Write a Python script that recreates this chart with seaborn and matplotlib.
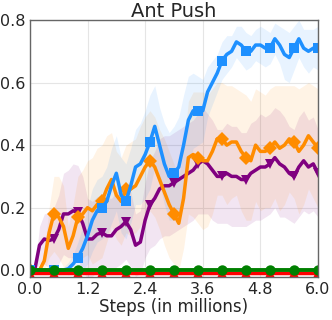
import numpy as np
import pandas as pd
import matplotlib
matplotlib.use("Agg")
import matplotlib.pyplot as plt
import seaborn as sns

steps = np.round(np.arange(0, 6.01, 0.1), 1)

blue_mean = [0, 0, 0, 0, 0, 0, 0, 0, 0.005, 0.02,
             0.04, 0.07, 0.11, 0.16, 0.19, 0.20, 0.22, 0.27, 0.31, 0.24,
             0.22, 0.27, 0.33, 0.34, 0.37, 0.41, 0.46, 0.40, 0.34, 0.30,
             0.31, 0.33, 0.40, 0.48, 0.51, 0.51, 0.51, 0.57, 0.60, 0.63,
             0.67, 0.69, 0.70, 0.73, 0.72, 0.70, 0.70, 0.72, 0.72, 0.71,
             0.71, 0.74, 0.72, 0.69, 0.68, 0.71, 0.74, 0.71, 0.70, 0.71, 0.71]
blue_sd = [0, 0, 0, 0, 0, 0, 0.005, 0.01, 0.02, 0.03,
           0.05, 0.07, 0.09, 0.10, 0.10, 0.10, 0.11, 0.12, 0.12, 0.12,
           0.12, 0.12, 0.12, 0.13, 0.14, 0.15, 0.13, 0.12, 0.13, 0.14,
           0.15, 0.16, 0.16, 0.14, 0.12, 0.11, 0.10, 0.08, 0.07, 0.06,
           0.06, 0.06, 0.05, 0.05, 0.06, 0.06, 0.05, 0.05, 0.06, 0.06,
           0.05, 0.05, 0.06, 0.08, 0.08, 0.07, 0.06, 0.06, 0.07, 0.06, 0.07]

orange_mean = [0, 0, 0, 0.03, 0.12, 0.18, 0.17, 0.14, 0.07, 0.11,
               0.17, 0.18, 0.20, 0.19, 0.21, 0.22, 0.26, 0.29, 0.24, 0.22,
               0.26, 0.26, 0.27, 0.30, 0.33, 0.35, 0.33, 0.29, 0.25, 0.21,
               0.18, 0.15, 0.23, 0.36, 0.37, 0.36, 0.35, 0.35, 0.38, 0.42,
               0.42, 0.40, 0.41, 0.41, 0.38, 0.36, 0.35, 0.40, 0.38, 0.38,
               0.39, 0.41, 0.39, 0.40, 0.42, 0.41, 0.38, 0.40, 0.43, 0.41, 0.39]
orange_sd = [0, 0, 0, 0.03, 0.08, 0.12, 0.13, 0.13, 0.07, 0.10,
             0.13, 0.14, 0.15, 0.17, 0.18, 0.18, 0.17, 0.15, 0.14, 0.14,
             0.14, 0.15, 0.15, 0.16, 0.16, 0.16, 0.16, 0.16, 0.17, 0.17,
             0.16, 0.15, 0.16, 0.18, 0.20, 0.21, 0.22, 0.21, 0.20, 0.18,
             0.18, 0.19, 0.18, 0.17, 0.19, 0.20, 0.19, 0.18, 0.19, 0.18,
             0.19, 0.18, 0.20, 0.19, 0.17, 0.18, 0.20, 0.19, 0.17, 0.18, 0.19]

purple_mean = [0, 0, 0.08, 0.10, 0.095, 0.10, 0.13, 0.18, 0.18, 0.19,
               0.185, 0.15, 0.10, 0.10, 0.115, 0.12, 0.11, 0.11, 0.13, 0.14,
               0.155, 0.13, 0.08, 0.09, 0.16, 0.21, 0.23, 0.26, 0.27, 0.27,
               0.28, 0.29, 0.30, 0.31, 0.32, 0.34, 0.35, 0.34, 0.32, 0.30,
               0.30, 0.31, 0.30, 0.30, 0.29, 0.29, 0.31, 0.32, 0.33, 0.33,
               0.34, 0.36, 0.34, 0.33, 0.31, 0.30, 0.33, 0.35, 0.33, 0.34, 0.31]
purple_sd = [0, 0, 0.06, 0.08, 0.09, 0.10, 0.11, 0.13, 0.14, 0.15,
             0.15, 0.15, 0.13, 0.12, 0.12, 0.12, 0.12, 0.12, 0.12, 0.12,
             0.12, 0.12, 0.10, 0.10, 0.12, 0.14, 0.15, 0.16, 0.16, 0.16,
             0.16, 0.16, 0.16, 0.16, 0.16, 0.16, 0.17, 0.16, 0.16, 0.15,
             0.15, 0.16, 0.16, 0.16, 0.15, 0.15, 0.16, 0.16, 0.17, 0.16,
             0.16, 0.16, 0.17, 0.16, 0.15, 0.15, 0.16, 0.16, 0.15, 0.15, 0.14]

green_mean = [0.0] * len(steps)
red_mean = [-0.01] * len(steps)

x_ticks = [0.0, 1.2, 2.4, 3.6, 4.8, 6.0]
y_ticks = [0.0, 0.2, 0.4, 0.6, 0.8]

sns.set_style("whitegrid")
plt.rcParams["font.family"] = ["DejaVu Sans"]

fig, ax = plt.subplots(figsize=(3.32, 3.2), dpi=100)
fig.subplots_adjust(left=0.09, right=0.958, top=0.9375, bottom=0.134)

series = [
    (purple_mean, purple_sd, "#800080", "v"),
    (orange_mean, orange_sd, "#FF8C00", "D"),
    (blue_mean, blue_sd, "#1E90FF", "s"),
]
for mean, sd, color, _ in series:
    m = np.array(mean); s = np.array(sd)
    ax.fill_between(steps, m - s, m + s, color=color, alpha=0.1, linewidth=0)

for mean, sd, color, mk in series:
    sns.lineplot(x=steps, y=mean, ax=ax, color=color, linewidth=2.5,
                 marker=mk, markersize=7, markevery=5, markeredgewidth=0)

sns.lineplot(x=steps, y=red_mean, ax=ax, color="#FF0000", linewidth=2.5,
             marker="^", markersize=7, markevery=5, markeredgewidth=0)
sns.lineplot(x=steps, y=green_mean, ax=ax, color="#008000", linewidth=2.8,
             marker="o", markersize=7.5, markevery=5, markeredgewidth=0)

ax.set_xlim(0, 6.0)
ax.set_ylim(-0.022, 0.8)
ax.set_xticks(x_ticks)
ax.set_xticklabels([f"{t:.1f}" for t in x_ticks])
ax.set_yticks(y_ticks)
ax.set_yticklabels([f"{t:.1f}" for t in y_ticks])
ax.tick_params(labelsize=11.5, length=0, pad=3.2)
ax.set_title("Ant Push", fontsize=14, pad=2)
ax.set_xlabel("Steps (in millions)", fontsize=12, labelpad=1)
ax.set_ylabel("")
ax.grid(color="#e5e5e5", linewidth=0.8)
for sp in ax.spines.values():
    sp.set_color("#666666")
    sp.set_linewidth(1.0)

plt.savefig("out.png", dpi=100, facecolor="white")
